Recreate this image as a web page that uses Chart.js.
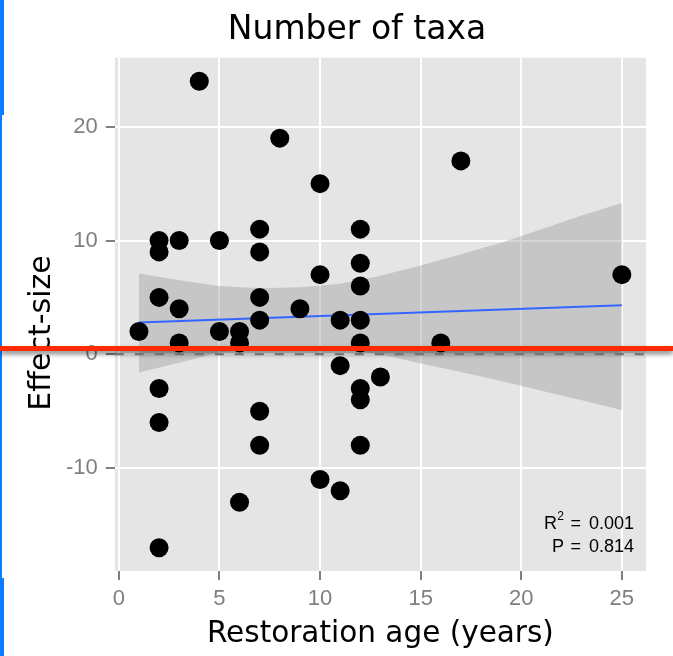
<!DOCTYPE html>
<html><head><meta charset="utf-8">
<script src="https://cdn.jsdelivr.net/npm/chart.js@4.4.1/dist/chart.umd.min.js"></script>
<style>html,body{margin:0;padding:0;background:#fff;}#wrap{position:relative;width:673px;height:656px;}</style>
</head><body><div id="wrap"><canvas id="c" width="673" height="656"></canvas></div>
<script>
// ---- data ----
const ageYears   = [1, 2,2,2,2,2,2, 3,3,3, 4, 5,5, 6,6,6, 7,7,7,7,7,7, 8, 9, 10,10,10, 11,11,11, 12,12,12,12,12,12,12,12, 13, 16, 17, 25];
const effectSize = [2, 10,9,5,-3,-6,-17, 10,4,1, 24, 10,2, 2,1,-13, 11,9,5,3,-5,-8, 19, 4, 15,7,-11, 3,-1,-12, 11,8,6,3,1,-3,-4,-8, -2, 1, 17, 7];
const fitAge     = [1, 25];
const fitEffect  = [2.8, 4.3];
const bandAge    = [1, 3, 5, 7, 9, 11, 13, 15, 17, 19, 21, 23, 25];
const bandUpper  = [7.1, 6.5, 6.0, 5.8, 5.9, 6.2, 6.9, 7.8, 8.8, 9.8, 11.0, 12.2, 13.3];
const bandLower  = [-1.6, -0.75, 0.15, 0.55, 0.7, 0.45, 0.0, -0.8, -1.55, -2.35, -3.2, -4.05, -4.9];
const xTicks     = [0, 5, 10, 15, 20, 25];
const yTicks     = [-10, 0, 10, 20];
const chartTitle = 'Number of taxa';
const xTitle     = 'Restoration age (years)';
const yTitle     = 'Effect-size';
const statR2     = '0.001';
const statP      = '0.814';

const pts = ageYears.map((x, i) => ({x: x, y: effectSize[i]}));
const fit = fitAge.map((x, i) => ({x: x, y: fitEffect[i]}));
const up  = bandAge.map((x, i) => ({x: x, y: bandUpper[i]}));
const lo  = bandAge.map((x, i) => ({x: x, y: bandLower[i]}));

const panelBg = {
  id: 'panelBg',
  beforeDraw(chart) {
    const {ctx, chartArea: a} = chart;
    ctx.save();
    ctx.fillStyle = '#ffffff';
    ctx.fillRect(0, 0, chart.width, chart.height);
    ctx.fillStyle = '#e5e5e5';
    ctx.fillRect(a.left, a.top, a.right - a.left, a.bottom - a.top);
    ctx.restore();
  }
};
const zeroLine = {
  id: 'zeroLine',
  beforeDatasetsDraw(chart) {
    const {ctx, chartArea: a, scales} = chart;
    const y = scales.y.getPixelForValue(0);
    ctx.save();
    ctx.strokeStyle = '#8c8c8c';
    ctx.lineWidth = 2;
    ctx.setLineDash([9, 11]);
    ctx.beginPath();
    ctx.moveTo(a.left, y);
    ctx.lineTo(a.right, y);
    ctx.stroke();
    ctx.restore();
  }
};
const titles = {
  id: 'titles',
  afterDraw(chart) {
    const {ctx} = chart;
    ctx.save();
    ctx.fillStyle = '#000';
    ctx.textAlign = 'center';
    ctx.textBaseline = 'alphabetic';
    ctx.font = '33px "DejaVu Sans", sans-serif';
    ctx.fillText(chartTitle, 357, 38.5);
    ctx.font = '30px "DejaVu Sans", sans-serif';
    ctx.translate(50, 333);
    ctx.rotate(-Math.PI / 2);
    ctx.fillText(yTitle, 0, 0);
    ctx.restore();
  }
};
const stats = {
  id: 'stats',
  afterDatasetsDraw(chart) {
    const {ctx} = chart;
    ctx.save();
    ctx.fillStyle = '#000';
    ctx.textBaseline = 'alphabetic';
    ctx.font = '18px "Liberation Sans", Arial, sans-serif';
    const numRight = 634, eqRight = 581, lhsRight = 564;
    ctx.textAlign = 'right';
    ctx.fillText(statR2, numRight, 529);
    ctx.fillText(statP, numRight, 552);
    ctx.fillText('=', eqRight, 529);
    ctx.fillText('=', eqRight, 552);
    ctx.fillText('P', lhsRight, 552);
    ctx.font = '12px "Liberation Sans", Arial, sans-serif';
    ctx.fillText('2', lhsRight, 520);
    ctx.font = '18px "Liberation Sans", Arial, sans-serif';
    ctx.fillText('R', lhsRight - 7, 529);
    ctx.restore();
  }
};
const overlay = {
  id: 'overlay',
  afterDraw(chart) {
    const {ctx} = chart;
    ctx.save();
    ctx.fillStyle = '#0a7cff';
    ctx.fillRect(0, 0, 4, 115);
    ctx.fillRect(0, 115, 2, 463);
    ctx.fillRect(0, 578, 4, 78);
    ctx.shadowColor = 'rgba(0,0,0,0.5)';
    ctx.shadowBlur = 5;
    ctx.shadowOffsetY = 3;
    ctx.fillStyle = '#ff2a00';
    ctx.fillRect(0, 346, 673, 5);
    ctx.restore();
  }
};

const tickFont = {family: '"Liberation Sans", Arial, sans-serif', size: 22};
new Chart(document.getElementById('c'), {
  type: 'scatter',
  data: {
    datasets: [
      {label: 'points', data: pts, backgroundColor: '#000', borderWidth: 0, pointRadius: 9.5, pointHoverRadius: 9.5},
      {label: 'fit', type: 'line', data: fit, borderColor: '#3366ff', borderWidth: 2, pointRadius: 0, fill: false},
      {label: 'lower', type: 'line', data: lo, borderWidth: 0, borderColor: 'rgba(0,0,0,0)', pointRadius: 0, fill: false},
      {label: 'upper', type: 'line', data: up, borderWidth: 0, borderColor: 'rgba(0,0,0,0)', pointRadius: 0, fill: 2, backgroundColor: 'rgba(153,153,153,0.4)'}
    ]
  },
  options: {
    responsive: false,
    animation: false,
    events: [],
    layout: {padding: {top: 57.7, left: 0, right: 27, bottom: 0}},
    plugins: {
      legend: {display: false},
      tooltip: {enabled: false},
      title: {display: false}
    },
    scales: {
      x: {
        type: 'linear', min: -0.2, max: 26.2,
        afterBuildTicks: s => { s.ticks = xTicks.map(v => ({value: v})); },
        afterFit: s => { s.height = 85; },
        ticks: {color: '#7f7f7f', font: tickFont, padding: 6, maxRotation: 0},
        grid: {color: '#ffffff', lineWidth: 2, tickColor: '#7f7f7f', tickLength: 9, tickWidth: 2},
        border: {display: false},
        title: {display: true, text: xTitle, color: '#000',
          font: {family: '"DejaVu Sans", sans-serif', size: 29.5}, padding: {top: 0, bottom: 3.5}}
      },
      y: {
        type: 'linear', min: -19.05, max: 26.07,
        afterBuildTicks: s => { s.ticks = yTicks.map(v => ({value: v})); },
        afterFit: s => { s.width = 114.8; },
        ticks: {color: '#7f7f7f', font: tickFont, padding: 8},
        grid: {color: '#ffffff', lineWidth: 2, tickColor: '#7f7f7f', tickLength: 9, tickWidth: 2},
        border: {display: false},
        title: {display: false, text: yTitle}
      }
    }
  },
  plugins: [panelBg, zeroLine, stats, titles, overlay]
});
</script></body></html>
